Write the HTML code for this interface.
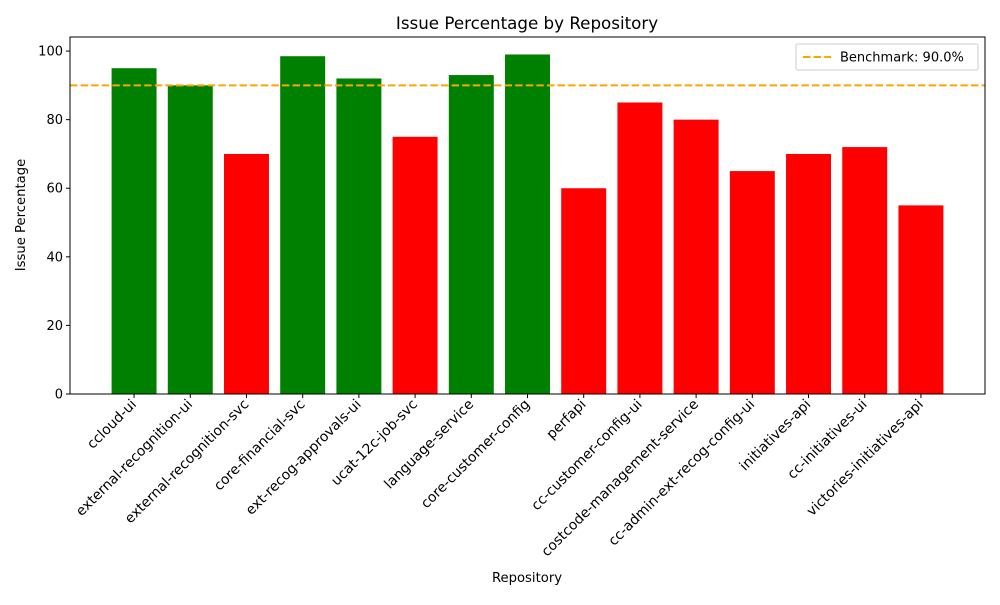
<!DOCTYPE html>
<html><head><meta charset="utf-8"><style>
body{margin:0;background:#fff;}
svg text{font-family:"DejaVu Sans","Liberation Sans",sans-serif;fill:#000;}
</style></head><body>
<svg id="chart" width="1000" height="600" xmlns="http://www.w3.org/2000/svg">
<rect width="1000" height="600" fill="#fff"/>
<g id="bars"></g><g id="xt"></g><g id="yt"></g>
<line id="bench" stroke="orange" stroke-width="2" stroke-dasharray="7.4,3.2"/>
<rect x="70" y="37" width="915" height="357" fill="none" stroke="#000" stroke-width="1"/>
<text x="527" y="29" font-size="16.7" text-anchor="middle">Issue Percentage by Repository</text>
<text x="527" y="582" font-size="13.2" text-anchor="middle">Repository</text>
<text transform="translate(25,215) rotate(-90)" font-size="13.2" text-anchor="middle">Issue Percentage</text>
<g>
<rect x="796" y="44" width="182" height="26" fill="#fff" stroke="#ccc" rx="2"/>
<line x1="803" y1="57" x2="831" y2="57" stroke="orange" stroke-width="2" stroke-dasharray="7.4,3.2"/>
<text x="840" y="61.5" font-size="13">Benchmark: 90.0%</text>
</g>
</svg>
<script>
const categories=["ccloud-ui","external-recognition-ui","external-recognition-svc","core-financial-svc","ext-recog-approvals-ui","ucat-12c-job-svc","language-service","core-customer-config","perfapi","cc-customer-config-ui","costcode-management-service","cc-admin-ext-recog-config-ui","initiatives-api","cc-initiatives-ui","victories-initiatives-api"];
const values=[95,90,70,98.5,92,75,93,99,60,85,80,65,70,72,55];
const benchmark=90;
const yTicks=[0,20,40,60,80,100];
const L=70,R=985,T=37,B=394;
const xmin=-1.14,xmax=categories.length-1+1.14;
const X=i=>L+(i-xmin)/(xmax-xmin)*(R-L);
const Y=v=>B-v/104.1*(B-T);
const ns="http://www.w3.org/2000/svg";
function mk(t,a,p){const e=document.createElementNS(ns,t);for(const k in a)e.setAttribute(k,a[k]);p.appendChild(e);return e;}
const bw=0.8*(R-L)/(xmax-xmin);
const gb=document.getElementById('bars'),gx=document.getElementById('xt'),gy=document.getElementById('yt');
categories.forEach((c,i)=>{
 const v=values[i];
 const r=mk('rect',{x:X(i)-bw/2,y:Y(v),width:bw,height:B-Y(v),fill:v>=benchmark?'green':'red'},gb);
 
 
 const tk=mk('line',{x1:X(i),x2:X(i),y1:B,y2:B+4,stroke:'#000'},gx);
 
 
 const t=mk('text',{transform:`translate(${X(i)+3},${B+11}) rotate(-45)`,'font-size':13.9,'text-anchor':'end'},gx);
 t.textContent=c;
 
 
});
yTicks.forEach(v=>{
 const tk=mk('line',{x1:L-4,x2:L,y1:Y(v),y2:Y(v),stroke:'#000'},gy);
 
 
 const t=mk('text',{x:L-7,y:Y(v)+4.5,'font-size':13,'text-anchor':'end'},gy);
 t.textContent=v;
 
 
});
const b=document.getElementById('bench');
b.setAttribute('x1',L);b.setAttribute('x2',R);b.setAttribute('y1',Y(benchmark));b.setAttribute('y2',Y(benchmark));
</script>
</body></html>
